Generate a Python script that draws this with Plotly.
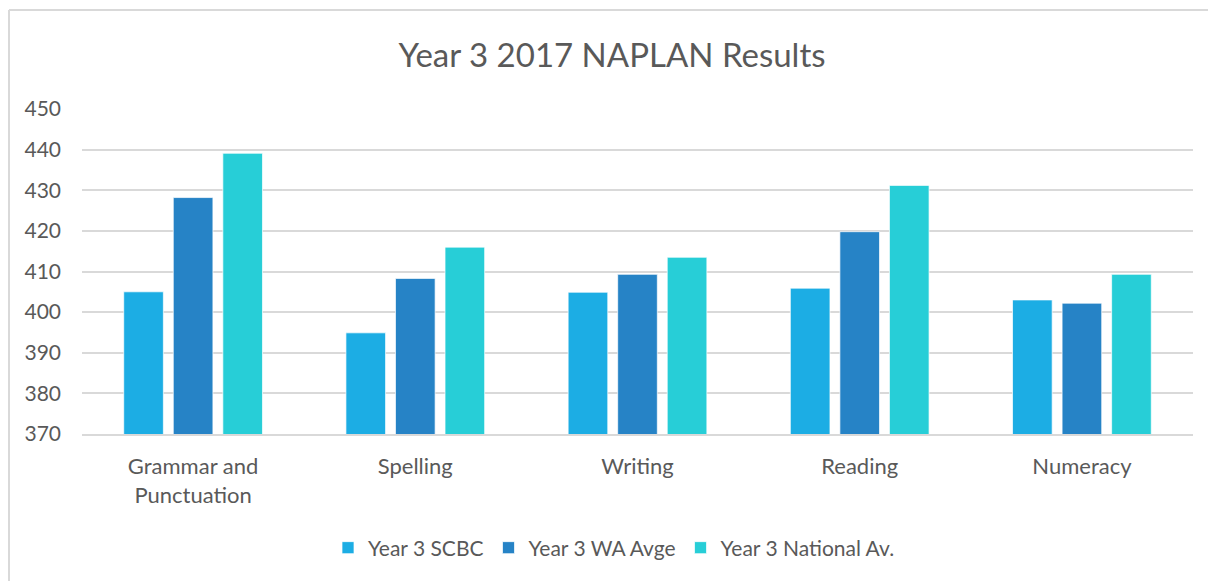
import plotly.graph_objs as go

# ── Data ───────────────────────────────────────────────────────────────────────
categories = ["Grammar and<br>Punctuation", "Spelling", "Writing", "Reading", "Numeracy"]
series_names = ["Year 3 SCBC", "Year 3 WA Avge", "Year 3 National Av."]
scbc = [405.0, 394.9, 404.9, 405.9, 403.0]
wa_avge = [428.2, 408.3, 409.3, 419.8, 402.2]
national_av = [439.1, 416.0, 413.5, 431.2, 409.3]
y_ticks = [370, 380, 390, 400, 410, 420, 430, 440, 450]

COLORS = ["#1CADE4", "#2683C6", "#27CED7"]
TEXT = "#595959"
FONT = "Lato"

# page body has an 8px margin, so the figure is sized/placed to compensate
W, H = 1208, 573
PL, PR, PT, PB = 74, 23, 101, 147          # plot area 1111 x 325
PW, PH = W - PL - PR, H - PT - PB

fig = go.Figure()
for name, vals, col in zip(series_names, [scbc, wa_avge, national_av], COLORS):
    fig.add_trace(go.Bar(
        x=categories, y=vals, name=name,
        marker=dict(color=col, line=dict(color="rgba(255,255,255,0.7)", width=1)),
    ))

fig.update_layout(
    width=W, height=H,
    plot_bgcolor="white", paper_bgcolor="white",
    margin=dict(l=PL, r=PR, t=PT, b=PB),
    barmode="group", bargap=0.331, bargroupgap=0.2,
    font=dict(family=FONT, color=TEXT, size=21),
    title=dict(text="Year 3 2017 NAPLAN Results", x=0.5, xanchor="center",
               y=1 - 47 / H, yanchor="middle",
               font=dict(family=FONT, size=33, color=TEXT)),
    legend=dict(orientation="h", x=(606 - PL) / PW, xanchor="center",
                y=(PT + PH - 540) / PH, yanchor="middle",
                font=dict(size=21, color=TEXT), itemwidth=30, traceorder="normal"),
    yaxis=dict(range=[370, 450], tickvals=y_ticks, showgrid=True, gridcolor="#D9D9D9",
               gridwidth=1.5, zeroline=False, showline=False, ticks="",
               tickfont=dict(size=21, color=TEXT), ticklabelstandoff=20),
    xaxis=dict(showgrid=False, showline=True, linecolor="#D9D9D9", linewidth=1.5,
               ticks="", tickfont=dict(size=22, color=TEXT), ticklabelstandoff=12),
)

# chart-area border (left and top edges visible in the crop)
bx = (1 - PL) / PW
ty = (PT + PH - 2) / PH
fig.add_shape(type="line", xref="paper", yref="paper",
              x0=bx, x1=bx, y0=-PB / PH, y1=ty,
              line=dict(color="#D9D9D9", width=2))
fig.add_shape(type="line", xref="paper", yref="paper",
              x0=bx, x1=(W - PL) / PW, y0=ty, y1=ty,
              line=dict(color="#D9D9D9", width=2))

fig.write_html("out.html")
